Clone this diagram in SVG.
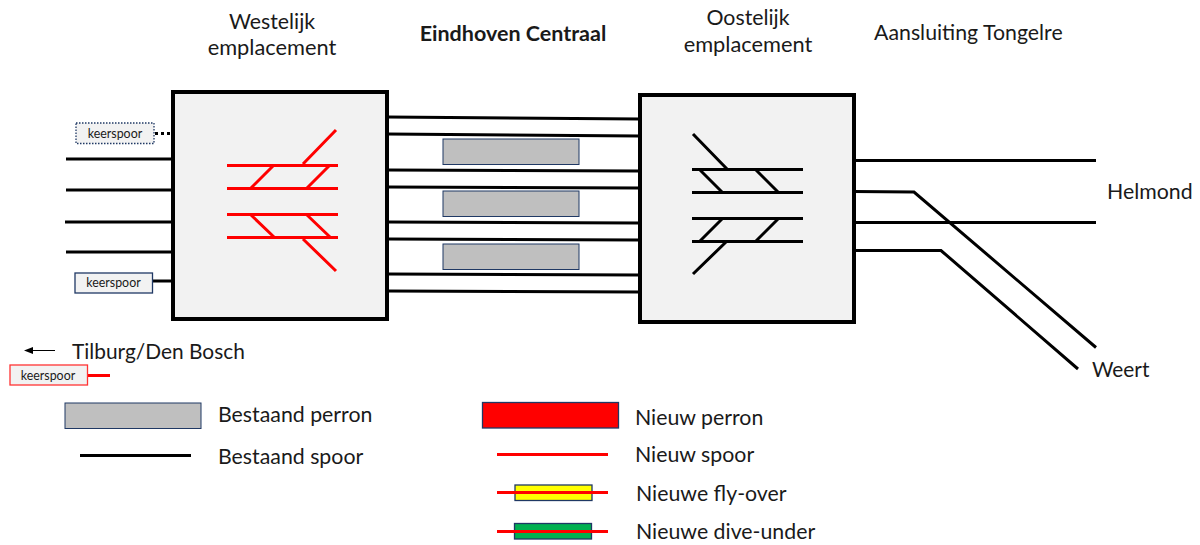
<svg xmlns="http://www.w3.org/2000/svg" width="1200" height="545" viewBox="0 0 1200 545">
<style>
text{font-family:Lato,"Open Sans","Liberation Sans",sans-serif;fill:#1a1a1a}
.t{font-size:21.300px}
.s{font-size:12.400px}
.k{stroke:#000;stroke-width:3;fill:none}
.r{stroke:#f00;stroke-width:3;fill:none}
.box{fill:#f2f2f2;stroke:#000;stroke-width:4}
.perron{fill:#bfbfbf;stroke:#1f3864;stroke-width:1}
.kbox{fill:#f2f2f2;stroke-width:1.300}
</style>
<rect width="1200" height="545" fill="#fff"/>
<g id="connectors">
<path class="k" d="M66 159H173M66 190H173M65 222H173M66 252H173M153 281H176"/>
<path class="k" stroke-dasharray="3 3" d="M155 133.500H171"/>
<path class="k" d="M387 117L640 119M387 134L640 136M387 170L640 171M387 187L640 188M387 222L640 223M387 239L640 240M387 274L640 275M387 291L640 292"/>
<path class="k" d="M853 160.500H1096M853 222.500H1096M853 191.500L914 192L1096 347.500M853 250.500H941L1078 369"/>
<path class="r" d="M87 375.500H110"/>
<path d="M55 350.500H33" stroke="#000" stroke-width="1" fill="none"/>
<path d="M24 350.500L33 347V354Z" fill="#000"/>
</g>
<g id="westelijk">
<rect class="box" x="173" y="92" width="214" height="227"/>
<path class="r" d="M227 165.500H338M227 188.500H338M227 214.500H338M227 237.500H338M303 164L336 130M251 188L274 165M307 188L330 165M251 215L274 237M307 215L330 237M303 239L336 271"/>
</g>
<g id="oostelijk">
<rect class="box" x="640" y="95" width="214" height="227"/>
<path class="k" d="M692 169.500H803M692 192.500H803M692 218.500H803M692 241.500H803M693 134L727 169M700 170L722 192M756 170L778 192M722 219L700 241M778 219L756 241M726 242L693 274"/>
</g>
<g id="perrons">
<rect class="perron" x="443" y="139" width="136" height="25.500"/>
<rect class="perron" x="443" y="191" width="136" height="25.500"/>
<rect class="perron" x="443" y="244" width="136" height="25.500"/>
</g>
<g id="keerspoor-1"><rect class="kbox" x="76" y="123" width="78" height="20.500" stroke="#1f3864" stroke-dasharray="1.500 1.500"/><text class="s" x="115" y="138" text-anchor="middle">keerspoor</text></g>
<g id="keerspoor-2"><rect class="kbox" x="75" y="273" width="77.500" height="20" stroke="#1f3864"/><text class="s" x="113.500" y="287" text-anchor="middle">keerspoor</text></g>
<g id="keerspoor-3"><rect class="kbox" x="10" y="365" width="77.500" height="20" stroke="#f33"/><text class="s" x="48" y="380" text-anchor="middle">keerspoor</text></g>
<g id="labels">
<text class="t" x="272" y="29" text-anchor="middle">Westelijk</text>
<text class="t" x="272" y="55" text-anchor="middle" style="font-size:21.800px">emplacement</text>
<text class="t" x="513" y="41" text-anchor="middle" font-weight="700" style="font-size:21.500px">Eindhoven Centraal</text>
<text class="t" x="748" y="25" text-anchor="middle">Oostelijk</text>
<text class="t" x="748" y="52" text-anchor="middle" style="font-size:21.800px">emplacement</text>
<text class="t" x="874" y="40">Aansluiting Tongelre</text>
<text class="t" x="1107" y="199">Helmond</text>
<text class="t" x="1092" y="377" style="font-size:20.800px">Weert</text>
<text class="t" x="72" y="359" style="font-size:20.900px">Tilburg/Den Bosch</text>
</g>
<g id="legend">
<rect class="perron" x="65" y="403" width="136" height="25.500"/>
<path class="k" d="M80 455.500H191"/>
<text class="t" x="218" y="422">Bestaand perron</text>
<text class="t" x="218" y="464">Bestaand spoor</text>
<rect x="482.500" y="402.500" width="136" height="25.500" fill="#f00" stroke="#1f3864" stroke-width="1.300"/>
<path class="r" d="M497 454.500H608"/>
<rect x="515" y="485" width="77" height="15.500" fill="#ff0" stroke="#1f3864" stroke-width="1.300"/>
<path class="r" d="M497 492.500H608"/>
<rect x="514.500" y="523.500" width="77" height="15.500" fill="#00b050" stroke="#1f3864" stroke-width="1.300"/>
<path class="r" d="M497 531.500H608"/>
<text class="t" x="635" y="425">Nieuw perron</text>
<text class="t" x="635" y="462">Nieuw spoor</text>
<text class="t" x="636" y="501">Nieuwe fly-over</text>
<text class="t" x="636" y="539">Nieuwe dive-under</text>
</g>
</svg>
